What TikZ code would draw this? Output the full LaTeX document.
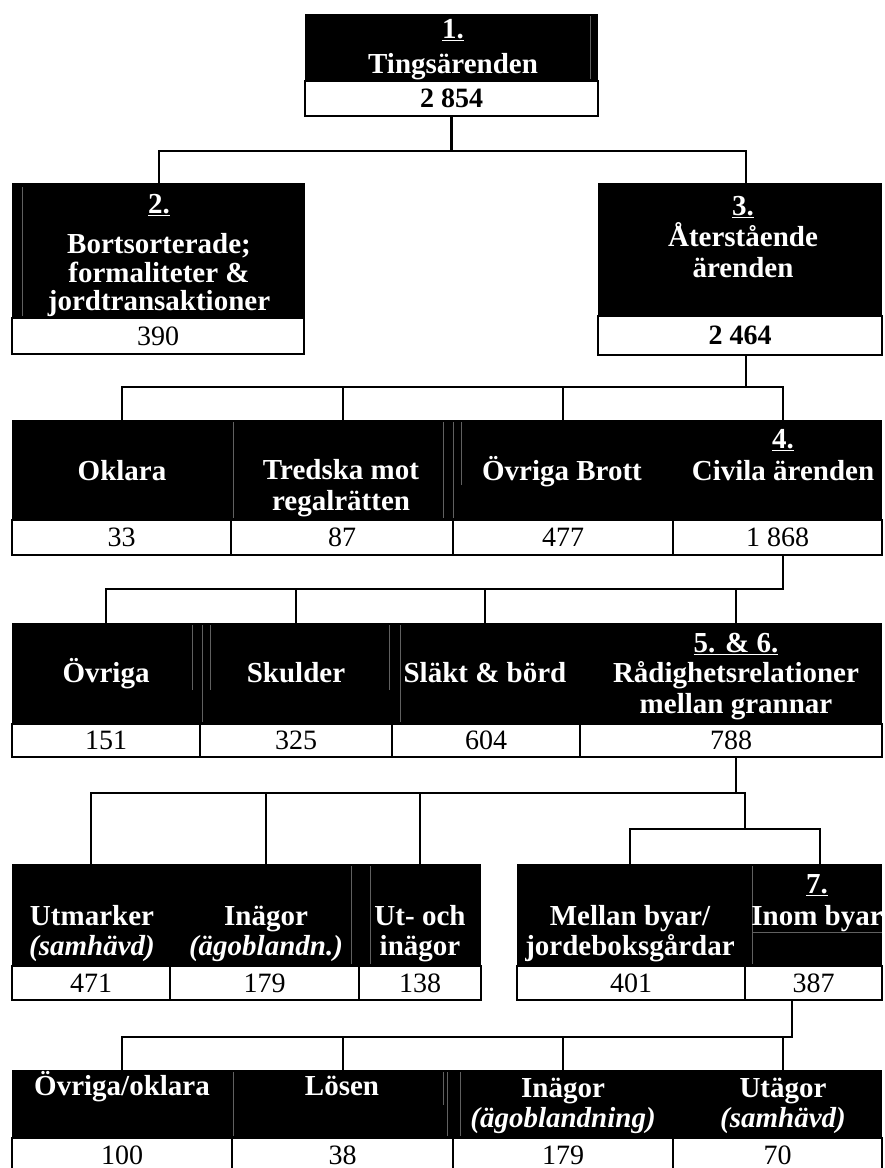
\documentclass[tikz,border=0pt]{standalone}
\usepackage{fontspec}
\setmainfont{Liberation Serif}
\newcommand\stk[2][30pt]{\vtop{\baselineskip=#1\lineskiplimit=-40pt\lineskip=0pt\halign{\hfil##\hfil\cr#2\crcr}}}
\newcommand\cellbox[6]{\node[cell, minimum width={#4-#2}, minimum height={#5-#3}] (#1) at ({(#2+#4)/2},{(#3+#5)/2}) {#6};}
\tikzset{
  conn/.style={line width=2.4pt, line cap=rect},
  lab/.style={text=white, font=\fontsize{29}{30}\selectfont\bfseries, inner sep=0pt, anchor=base},
  cell/.style={draw=black, line width=2.3pt, fill=white, inner sep=0pt, font=\fontsize{28}{30}\selectfont},
  blk/.style={fill=black},
  faint/.style={draw=gray!75!black, line width=0.6pt}
}
\begin{document}
\begin{tikzpicture}[x=1pt,y=-1pt]
\useasboundingbox[fill=white] (0,0) rectangle (885,1168);

% ---------- connector end points ----------
\coordinate (j1) at (451.5,151);
\coordinate (t2) at (159,183);
\coordinate (t3) at (746,183);
\coordinate (p3) at (746,355);
\coordinate (j3) at (746,387);
\coordinate (t3a) at (122,420);
\coordinate (t3b) at (343,420);
\coordinate (t3c) at (563,420);
\coordinate (t3d) at (783,420);
\coordinate (p4) at (783,555);
\coordinate (j4) at (783,589);
\coordinate (t4a) at (106,623);
\coordinate (t4b) at (296,623);
\coordinate (t4c) at (485,623);
\coordinate (t4d) at (736,623);
\coordinate (p5) at (736,757);
\coordinate (j5) at (745,793);
\coordinate (k5) at (745,829);
\coordinate (t5a) at (91,864);
\coordinate (t5b) at (266,864);
\coordinate (t5c) at (420,864);
\coordinate (t5d) at (630,864);
\coordinate (t5e) at (820,864);
\coordinate (p6) at (792,1000);
\coordinate (j6) at (792,1037);
\coordinate (t6a) at (122,1070);
\coordinate (t6b) at (343,1070);
\coordinate (t6c) at (563,1070);
\coordinate (t6d) at (783,1070);

% ---------- black label areas ----------
\fill[blk] (305,14) rectangle (598,81);
\fill[blk] (12,183) rectangle (305,318);
\fill[blk] (598,183) rectangle (882,316);
\fill[blk] (12,420) rectangle (882,520);
\fill[blk] (12,623) rectangle (882,724);
\fill[blk] (12,864) rectangle (481,966);
\fill[blk] (517,864) rectangle (882,966);
\fill[blk] (12,1070) rectangle (882,1138);

% faint table rules inside black areas
\draw[faint] (590,16) -- (590,79);
\draw[faint] (22,187) -- (22,316);
\draw[faint] (233,422) -- (233,518);
\draw[faint] (443,422) -- (443,518);
\draw[faint] (453,422) -- (453,518);
\draw[faint] (461,422) -- (461,485);
\draw[faint] (192,625) -- (192,690);
\draw[faint] (202,625) -- (202,722);
\draw[faint] (210,625) -- (210,690);
\draw[faint] (389,625) -- (389,690);
\draw[faint] (400,625) -- (400,722);
\draw[faint] (351,866) -- (351,964);
\draw[faint] (370,866) -- (370,964);
\draw[faint] (752,866) -- (752,964);
\draw[faint] (752,932) -- (882,932);
\draw[faint] (233,1072) -- (233,1136);
\draw[faint] (443,1072) -- (443,1105);
\draw[faint] (447,1072) -- (447,1136);
\draw[faint] (460,1072) -- (460,1136);

% ---------- number cells ----------
\cellbox{n1}{305}{81}{598}{116}{\bfseries 2~854}
\cellbox{n2}{12}{318}{304}{354}{390}
\cellbox{n3}{598}{316}{882}{355}{\bfseries 2~464}
\cellbox{n3a}{12}{520}{231}{555}{33}
\cellbox{n3b}{231}{520}{453}{555}{87}
\cellbox{n3c}{453}{520}{673}{555}{477}
\cellbox{n3d}{673}{520}{882}{555}{1~868}
\cellbox{n4a}{12}{724}{200}{757}{151}
\cellbox{n4b}{200}{724}{392}{757}{325}
\cellbox{n4c}{392}{724}{580}{757}{604}
\cellbox{n4d}{580}{724}{882}{757}{788}
\cellbox{n5a}{12}{966}{170}{1000}{471}
\cellbox{n5b}{170}{966}{359}{1000}{179}
\cellbox{n5c}{359}{966}{481}{1000}{138}
\cellbox{n5d}{517}{966}{745}{1000}{401}
\cellbox{n5e}{745}{966}{882}{1000}{387}
\cellbox{n6a}{12}{1138}{232}{1172}{100}
\cellbox{n6b}{232}{1138}{453}{1172}{38}
\cellbox{n6c}{453}{1138}{673}{1172}{179}
\cellbox{n6d}{673}{1138}{882}{1172}{70}

% ---------- connectors ----------
\draw[conn] (n1.south) -- (j1);
\draw[conn] (t2) |- (j1) -| (t3);
\draw[conn] (p3) -- (j3);
\draw[conn] (t3a) |- (j3) -| (t3d);
\draw[conn] (t3b) -- (t3b |- j3);
\draw[conn] (t3c) -- (t3c |- j3);
\draw[conn] (p4) -- (j4);
\draw[conn] (t4a) |- (j4);
\draw[conn] (t4b) -- (t4b |- j4);
\draw[conn] (t4c) -- (t4c |- j4);
\draw[conn] (t4d) -- (t4d |- j4);
\draw[conn] (p5) -- (p5 |- j5);
\draw[conn] (t5a) |- (j5) -- (k5);
\draw[conn] (t5b) -- (t5b |- j5);
\draw[conn] (t5c) -- (t5c |- j5);
\draw[conn] (t5d) |- (k5) -| (t5e);
\draw[conn] (p6) -- (j6);
\draw[conn] (t6a) |- (j6);
\draw[conn] (t6b) -- (t6b |- j6);
\draw[conn] (t6c) -- (t6c |- j6);
\draw[conn] (t6d) -- (t6d |- j6);

% ---------- labels ----------
\node[lab] (l1) at (453,38) {\stk[35pt]{\underline{1.}\cr Tingsärenden}};
\node[lab] (l2) at (159,213) {\stk[28.5pt]{\underline{2.}\cr\noalign{\vskip 12pt} Bortsorterade;\cr formaliteter \&\cr jordtransaktioner}};
\node[lab] (l3) at (743,215) {\stk[31pt]{\underline{3.}\cr Återstående\cr ärenden}};

\node[lab] (l3a) at (122,480) {Oklara};
\node[lab] (l3b) at (341,479) {\stk[31pt]{Tredska mot\cr regalrätten}};
\node[lab] (l3c) at (562,480) {Övriga Brott};
\node[lab] (l3d) at (783,448) {\stk[32pt]{\underline{4.}\cr Civila ärenden}};

\node[lab] (l4a) at (106,682) {Övriga};
\node[lab] (l4b) at (296,682) {Skulder};
\node[lab] (l4c) at (485,682) {Släkt \& börd};
\node[lab] (l4d) at (736,652) {\stk[30.5pt]{\underline{5. \& 6.}\cr Rådighetsrelationer\cr mellan grannar}};

\node[lab] (l5a) at (92,925) {\stk[30pt]{Utmarker\cr {\itshape (samhävd)}}};
\node[lab] (l5b) at (266,925) {\stk[30pt]{Inägor\cr {\itshape (ägoblandn.)}}};
\node[lab] (l5c) at (420,925) {\stk[30pt]{Ut- och\cr inägor}};
\node[lab] (l5d) at (630,925) {\stk[30pt]{Mellan byar/\cr jordeboksgårdar}};
\node[lab] (l5e) at (817,893) {\stk[32pt]{\underline{7.}\cr Inom byar}};

\node[lab] (l6a) at (122,1095) {Övriga/oklara};
\node[lab] (l6b) at (342,1095) {Lösen};
\node[lab] (l6c) at (563,1097) {\stk[30pt]{Inägor\cr {\itshape (ägoblandning)}}};
\node[lab] (l6d) at (783,1097) {\stk[30pt]{Utägor\cr {\itshape (samhävd)}}};
\end{tikzpicture}
\end{document}
